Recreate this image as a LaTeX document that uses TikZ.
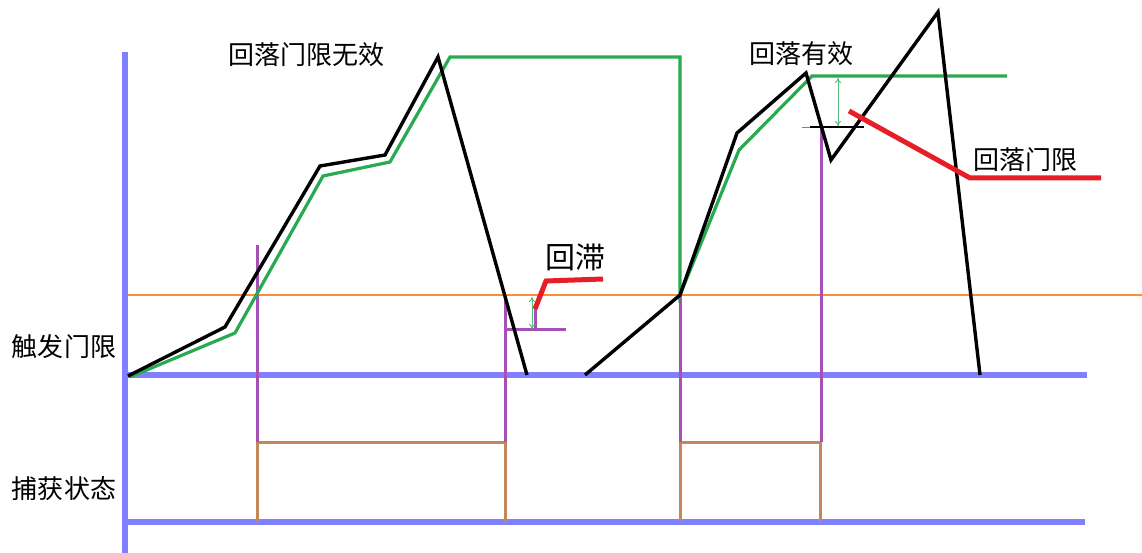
\documentclass[tikz,border=0pt]{standalone}
\usepackage{fontspec}
\newfontfamily\cjk{Noto Sans CJK SC}
\usetikzlibrary{arrows.meta}
\definecolor{axisblue}{RGB}{128,128,255}
\definecolor{trigorange}{RGB}{255,140,50}
\definecolor{sgreen}{RGB}{40,170,80}
\definecolor{spurple}{RGB}{165,80,180}
\definecolor{sbrown}{RGB}{195,135,95}
\definecolor{sred}{RGB}{230,30,40}
\tikzset{
  axis/.style={axisblue,line width=5.5pt},
  sig/.style={black,line width=3.4pt,line join=miter},
  fil/.style={sgreen,line width=3.2pt,line join=miter},
  mark line/.style={spurple,line width=3pt},
  state/.style={sbrown,line width=3pt},
  leader/.style={sred,line width=5pt},
  dim/.style={sgreen!80,line width=0.9pt,{To[length=5pt,width=6pt]}-{To[length=5pt,width=6pt]}},
  lbl/.style={font=\cjk\fontsize{26}{28}\selectfont,inner sep=0pt},
}
\begin{document}
\begin{tikzpicture}[x=1pt,y=-1pt]
\useasboundingbox[fill=white] (0,0) rectangle (1142,553);
% axes
\draw[axis] (125,52) -- (125,553);
\draw[axis] (123,375) -- (1087,375);
\draw[axis] (123,522) -- (1085,522);
% trigger threshold
\draw[trigorange,line width=2.8pt] (128,295) -- (1142,295);
% state pulses
\draw[state] (257,522) -- (257,442) -- (505,442) -- (505,522);
\draw[state] (680,522) -- (680,442) -- (820,442) -- (820,522);
% purple markers
\draw[mark line] (257,245) -- (257,442);
\draw[mark line] (505,298) -- (505,442);
\draw[mark line] (680,295) -- (680,442);
\draw[mark line] (821,127) -- (821,442);
\draw[mark line] (505,329) -- (566,329);
\draw[mark line] (535,304) -- (535,329);
% filtered (green) curve
\draw[fil] (130,377) -- (235,333) -- (323,176) -- (390,162) -- (450,57) -- (680,57) -- (680,295) -- (739,150) -- (812,76) -- (1007,76);
% signal (black) curve
\draw[sig] (128,376) -- (225,327) -- (320,166) -- (385,155) -- (438,57) -- (527,375);
\draw[sig] (585,375) -- (680,295) -- (737,133) -- (806,73) -- (831,160) -- (938,12) -- (980,375);
% fall-back threshold mark
\draw[gray,line width=0.6pt] (802,127) -- (812,127);
\draw[black,line width=2.6pt] (810,127) -- (864,127);
% dimension arrows
\draw[dim] (532,297) -- (532,329);
\draw[dim] (838,78) -- (838,126);
% leaders
\coordinate (h1) at (535,309);
\coordinate (h2) at (546,281);
\coordinate (h3) at (603,279);
\draw[leader,line join=miter] (h1) -- (h2) -- (h3);
\coordinate (r1) at (849,111);
\coordinate (r2) at (970,178);
\coordinate (r3) at (1101,178);
\draw[leader,line join=round] (r1) -- (r2) -- (r3);
% labels
\node[lbl] (t1) at (306,55) {回落门限无效};
\node[lbl] (t2) at (801,54) {回落有效};
\node[lbl] (t3) at (1025,160) {回落门限};
\node[lbl,font=\cjk\fontsize{30}{32}\selectfont] (t4) at (575,257) {回滞};
\node[lbl] (t5) at (64,347) {触发门限};
\node[lbl] (t6) at (64,489) {捕获状态};
\end{tikzpicture}
\end{document}
